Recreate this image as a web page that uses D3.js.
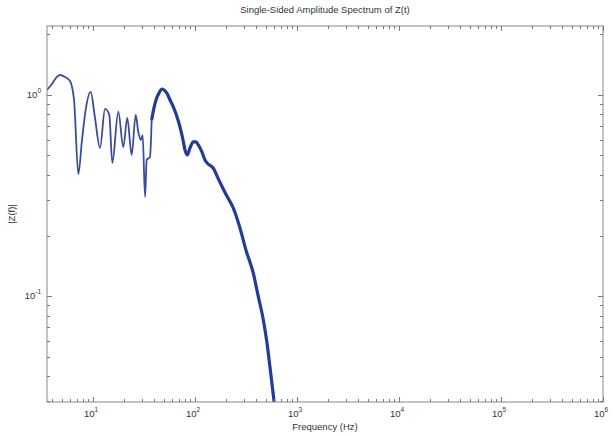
<!DOCTYPE html>
<html>
<head>
<meta charset="utf-8">
<script src="https://cdn.jsdelivr.net/npm/d3@7"></script>
<style>
  body { margin: 0; background: #fff; }
  text { font-family: "Liberation Sans", Arial, sans-serif; fill: #333; }
</style>
</head>
<body>
<svg width="615" height="436"></svg>
<script>
// frequency (Hz) and |Z(f)|
const freq = [3.54, 3.94, 4.34, 4.74, 5.31, 5.95, 6.52, 7.18, 7.80, 8.53,
  9.49, 10.46, 11.71, 13.11, 14.45, 15.46, 17.70, 19.82, 21.68, 23.94,
  26.22, 27.80, 29.37, 30.70, 32.36, 33.61, 36.2, 37.6, 39.6, 42.1,
  44.4, 47.2, 49.7, 52.8, 56.9, 61.3, 66.2, 71.3, 76.3, 79.8,
  84.0, 89.3, 96.2, 102.3, 107.7, 117.1, 125.3, 134.1, 151.1, 168.0,
  189.2, 210.6, 237.5, 276.1, 316.2, 372.9, 414.6, 467.7, 508, 543.3,
  575.4, 601.6];
const amp = [1.06, 1.13, 1.215, 1.257, 1.229, 1.174, 0.944, 0.404, 0.597, 0.862,
  1.035, 0.769, 0.545, 0.852, 0.795, 0.459, 0.826, 0.551, 0.769, 0.503,
  0.795, 0.655, 0.597, 0.632, 0.311, 0.475, 0.492, 0.751, 0.862, 0.966,
  1.023, 1.071, 1.059, 1.023, 0.944, 0.872, 0.786, 0.693, 0.597, 0.532,
  0.503, 0.545, 0.584, 0.584, 0.564, 0.520, 0.475, 0.454, 0.433, 0.386,
  0.341, 0.307, 0.274, 0.218, 0.169, 0.130, 0.101, 0.076, 0.0584, 0.0443,
  0.0348, 0.0287];
const xTickExp = [1, 2, 3, 4, 5, 6];
const yTickExp = [-1, 0];

const svg = d3.select("svg");
const margin = {left: 47, right: 12, top: 26, bottom: 34};
const W = 615, H = 436;

const x = d3.scaleLog()
    .domain([Math.pow(10, 0.549), 1e6])
    .range([margin.left, W - margin.right]);
const y = d3.scaleLog()
    .domain([Math.pow(10, -1.527), Math.pow(10, 0.343)])
    .range([H - margin.bottom, margin.top]);

const data = freq.map((f, i) => ({f: f, a: amp[i]}));

svg.append("clipPath").attr("id", "clip")
  .append("rect")
    .attr("x", margin.left).attr("y", margin.top)
    .attr("width", x.range()[1] - x.range()[0])
    .attr("height", y.range()[0] - y.range()[1]);

const line = d3.line()
    .x(d => x(d.f)).y(d => y(d.a))
    .curve(d3.curveMonotoneX);

const g = svg.append("g").attr("clip-path", "url(#clip)");
g.append("path")
    .datum(data.filter(d => d.f <= 38))
    .attr("d", line)
    .attr("fill", "none")
    .attr("stroke", "#3a4c9c")
    .attr("stroke-width", 1.8)
    .attr("stroke-linejoin", "round");
// denser part of the spectrum looks heavier
g.append("path")
    .datum(data.filter(d => d.f >= 37))
    .attr("d", line)
    .attr("fill", "none")
    .attr("stroke", "#233c98")
    .attr("stroke-width", 3.2)
    .attr("stroke-linejoin", "round");

// frame
const x0 = x.range()[0], x1 = x.range()[1], y0 = y.range()[0], y1 = y.range()[1];
svg.append("rect")
    .attr("x", x0).attr("y", y1)
    .attr("width", x1 - x0).attr("height", y0 - y1)
    .attr("fill", "none").attr("stroke", "#888").attr("stroke-width", 1);

// ticks inside, on all sides
function minorTicks(scale) {
  const [a, b] = scale.domain();
  const out = [];
  for (let e = Math.floor(Math.log10(a)); e <= Math.ceil(Math.log10(b)); e++) {
    for (let m = 1; m < 10; m++) {
      const v = m * Math.pow(10, e);
      if (v >= a * 0.999 && v <= b * 1.001) out.push({v: v, major: m === 1});
    }
  }
  return out;
}
const tg = svg.append("g").attr("stroke", "#777").attr("stroke-width", 1);
minorTicks(x).forEach(t => {
  const len = t.major ? 5 : 3, px = Math.round(x(t.v)) + 0.5;
  tg.append("line").attr("x1", px).attr("x2", px).attr("y1", y0).attr("y2", y0 - len);
  tg.append("line").attr("x1", px).attr("x2", px).attr("y1", y1).attr("y2", y1 + len);
});
minorTicks(y).forEach(t => {
  const len = t.major ? 5 : 3, py = Math.round(y(t.v)) + 0.5;
  tg.append("line").attr("x1", x0).attr("x2", x0 + len).attr("y1", py).attr("y2", py);
  tg.append("line").attr("x1", x1).attr("x2", x1 - len).attr("y1", py).attr("y2", py);
});

// tick labels as 10^n
xTickExp.forEach(e => {
  const t = svg.append("text")
      .attr("x", x(Math.pow(10, e)) - 2).attr("y", y0 + 15)
      .attr("text-anchor", "middle").attr("font-size", 9.5);
  t.append("tspan").text("10");
  t.append("tspan").attr("dy", -5).attr("font-size", 6.5).text(e);
});
yTickExp.forEach(e => {
  const t = svg.append("text")
      .attr("x", x0 - 6).attr("y", y(Math.pow(10, e)) + 3)
      .attr("text-anchor", "end").attr("font-size", 9.5);
  t.append("tspan").text("10");
  t.append("tspan").attr("dy", -5).attr("font-size", 6.5).text(e);
});

svg.append("text")
    .attr("x", (x0 + x1) / 2).attr("y", 13)
    .attr("text-anchor", "middle").attr("font-size", 9.5)
    .text("Single-Sided Amplitude Spectrum of Z(t)");
svg.append("text")
    .attr("x", (x0 + x1) / 2).attr("y", 430)
    .attr("text-anchor", "middle").attr("font-size", 9.5)
    .text("Frequency (Hz)");
svg.append("text")
    .attr("transform", `translate(15,${(y0 + y1) / 2}) rotate(-90)`)
    .attr("text-anchor", "middle").attr("font-size", 9.5)
    .text("|Z(f)|");
</script>
</body>
</html>
